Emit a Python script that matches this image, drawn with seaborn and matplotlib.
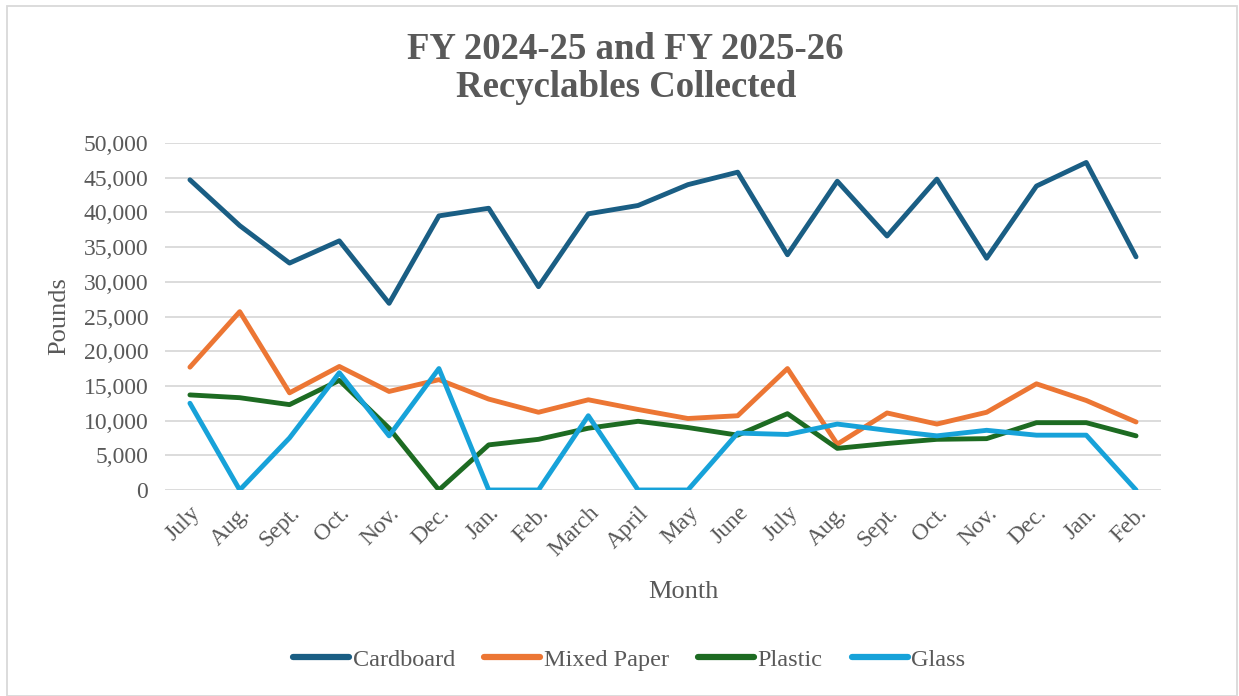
import matplotlib
matplotlib.use("Agg")
import matplotlib.pyplot as plt
import matplotlib.ticker as mticker
import numpy as np
import pandas as pd
import seaborn as sns

# months for FY 2024-25 (Jul-Jun) and FY 2025-26 (Jul-Feb)
months = ['July', 'Aug.', 'Sept.', 'Oct.', 'Nov.', 'Dec.', 'Jan.', 'Feb.', 'March', 'April',
          'May', 'June', 'July', 'Aug.', 'Sept.', 'Oct.', 'Nov.', 'Dec.', 'Jan.', 'Feb.']

cardboard = [44700, 38100, 32700, 35900, 26900, 39500, 40600, 29300, 39800, 41000,
             44000, 45800, 33900, 44500, 36600, 44800, 33400, 43800, 47200, 33600]
mixed_paper = [17700, 25700, 14000, 17800, 14200, 15900, 13100, 11200, 13000, 11600,
               10300, 10700, 17500, 6600, 11100, 9500, 11200, 15300, 12900, 9800]
plastic = [13700, 13300, 12300, 15800, 8900, 0, 6500, 7300, 8900, 9900,
           9000, 7900, 11000, 6000, 6700, 7300, 7400, 9700, 9700, 7800]
glass = [12500, 0, 7500, 16900, 7800, 17500, 0, 0, 10700, 0,
         0, 8200, 8000, 9500, 8600, 7800, 8600, 7900, 7900, 0]

series = {'Cardboard': cardboard, 'Mixed Paper': mixed_paper, 'Plastic': plastic, 'Glass': glass}
colors = {'Cardboard': '#1a5e84', 'Mixed Paper': '#ec7634', 'Plastic': '#1d6b22', 'Glass': '#17a2d9'}

rows = []
for name, vals in series.items():
    for i, v in enumerate(vals):
        rows.append({'idx': i, 'pounds': v, 'material': name})
df = pd.DataFrame(rows)

sns.set_theme(style="white")
plt.rcParams['font.family'] = ['Liberation Serif', 'DejaVu Serif']
text_grey = '#595959'

fig = plt.figure(figsize=(12.39, 6.96), dpi=100)
ax = fig.add_axes([0.1332, 0.296, 0.8038, 0.4985])

sns.lineplot(data=df, x='idx', y='pounds', hue='material', palette=colors,
             hue_order=list(series.keys()), linewidth=3.5, ax=ax, legend=False,
             solid_capstyle='round', solid_joinstyle='round')

ax.set_xlim(-0.5, len(months) - 0.5)
ax.set_ylim(0, 50000)
ax.set_yticks(np.arange(0, 50001, 5000))
ax.yaxis.set_major_formatter(mticker.FuncFormatter(lambda v, p: f'{int(v):,}'))
ax.set_xticks(range(len(months)))
ax.set_xticklabels(months, rotation=45, ha='right', rotation_mode='anchor')
ax.grid(axis='y', color='#d9d9d9', linewidth=1.3)
ax.set_axisbelow(True)
for s in ax.spines.values():
    s.set_visible(False)
ax.tick_params(axis='y', length=0, pad=12, labelsize=17, labelcolor=text_grey)
ax.tick_params(axis='x', length=0, pad=9, labelsize=17, labelcolor=text_grey)

ax.set_xlabel('Month', fontsize=19, color=text_grey)
ax.xaxis.set_label_coords(0.52, -0.262)
ax.set_ylabel('Pounds', fontsize=19, color=text_grey, labelpad=10)

fig.text(0.505, 0.902, 'FY 2024-25 and FY 2025-26\nRecyclables Collected', ha='center', va='center',
         fontsize=26.5, fontweight='bold', color=text_grey, linespacing=1.1)

handles = [plt.Line2D([], [], color=colors[n], linewidth=4.5, solid_capstyle='round') for n in series]
fig.legend(handles, list(series.keys()), loc='center', bbox_to_anchor=(0.508, 0.052), ncol=4,
           frameon=False, fontsize=17.5, labelcolor=text_grey, handlelength=2.3,
           handletextpad=0.15, columnspacing=1.2)

# light frame around the chart area
fig.patches.append(plt.Rectangle((0.006, 0.0), 0.992, 0.992, transform=fig.transFigure,
                                 fill=False, edgecolor='#d9d9d9', linewidth=1.3))

plt.savefig('out.png', dpi=100)
